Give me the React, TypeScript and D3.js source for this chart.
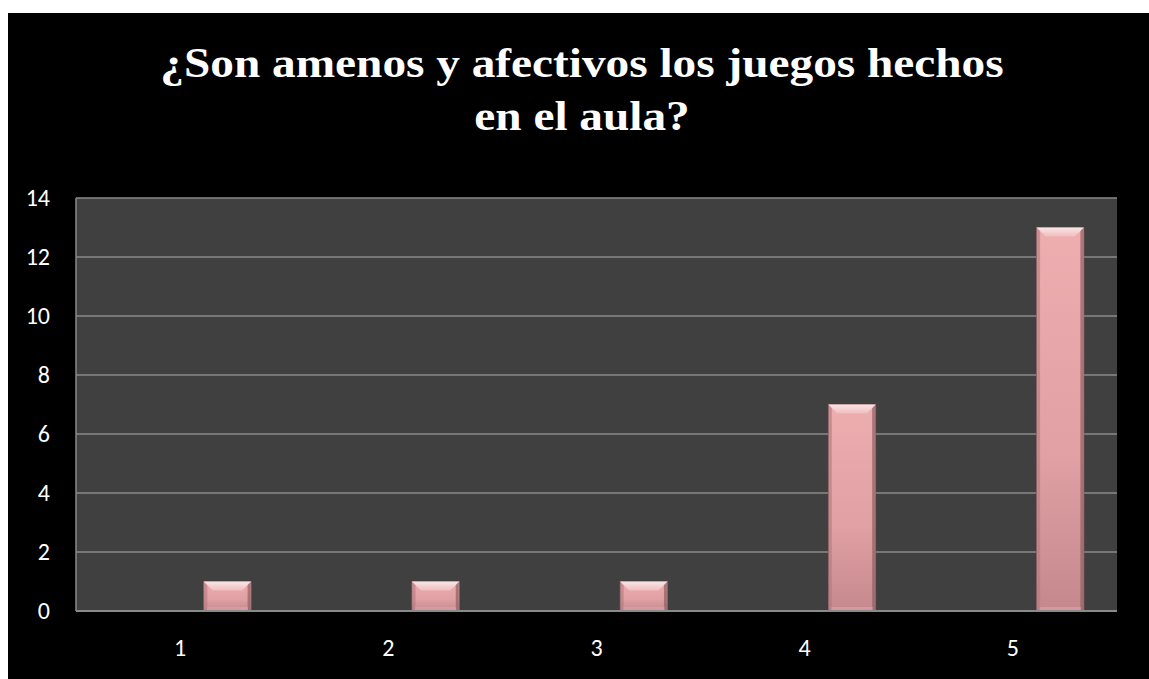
import React from "react";
import * as d3 from "d3";

const categories = ["1", "2", "3", "4", "5"];
const seriesNames = ["Serie1", "Serie2", "Serie3"];
const serie1 = [0, 0, 0, 0, 0];
const serie2 = [0, 0, 0, 0, 0];
const serie3 = [1, 1, 1, 7, 13];
const yTicks = [0, 2, 4, 6, 8, 10, 12, 14];
const titleLines = ["¿Son amenos y afectivos los juegos hechos", "en el aula?"];

export default function App() {
  const W = 1149, H = 679;
  const plot = { left: 76, right: 1117, top: 198, bottom: 611 };
  const x = d3.scaleBand<string>().domain(categories).range([plot.left, plot.right]).padding(0);
  const inner = d3.scaleBand<string>().domain(seriesNames).range([0, x.bandwidth()]).paddingInner(0).paddingOuter(0.7);
  const y = d3.scaleLinear().domain([0, 14]).range([plot.bottom, plot.top]);
  const allSeries = [serie1, serie2, serie3];

  const bars: { x: number; y: number; w: number; h: number; key: string }[] = [];
  allSeries.forEach((s, si) => {
    s.forEach((v, ci) => {
      if (v <= 0) return;
      const bx = (x(categories[ci]) ?? 0) + (inner(seriesNames[si]) ?? 0);
      const by = y(v);
      bars.push({ x: bx, y: by, w: inner.bandwidth(), h: y(0) - by, key: `${si}-${ci}` });
    });
  });

  const labelStyle = { fontFamily: "Carlito, Lato, 'Open Sans', sans-serif", fontSize: "24px" };
  const titleStyle = {
    fontFamily: "'Liberation Serif', 'Times New Roman', Tinos, 'DejaVu Serif', serif",
    fontWeight: 700,
    fontSize: "43px",
  };
  const bev = 9;

  return (
    <svg width={W} height={H} style={{ position: "absolute", left: 0, top: 0, display: "block" }}>
      <defs>
        <linearGradient id="barGrad" x1="0" y1="0" x2="0" y2="1">
          <stop offset="0%" stopColor="#eeaeb0" />
          <stop offset="60%" stopColor="#e0a0a4" />
          <stop offset="100%" stopColor="#c4888d" />
        </linearGradient>
        <linearGradient id="bevGrad" x1="0" y1="0" x2="0" y2="1">
          <stop offset="0%" stopColor="#fbe6e6" />
          <stop offset="100%" stopColor="#f0bcbe" />
        </linearGradient>
      </defs>
      <rect x={0} y={0} width={W} height={H} fill="#ffffff" />
      <rect x={8} y={13} width={W - 8} height={H - 13} fill="#000000" />
      {titleLines.map((t, i) => (
        <text
          key={i}
          transform={`translate(${582}, ${77 + i * 53}) scale(1.1, 1)`}
          textAnchor="middle"
          fill="#ffffff"
          style={titleStyle}
        >
          {t}
        </text>
      ))}
      <rect x={plot.left} y={plot.top} width={plot.right - plot.left} height={plot.bottom - plot.top} fill="#404040" />
      {yTicks.map((t) => (
        <line key={t} x1={plot.left} x2={plot.right} y1={y(t)} y2={y(t)} stroke="#8a8a8a" strokeWidth={1.5} />
      ))}
      <line x1={plot.left} x2={plot.left} y1={plot.top} y2={plot.bottom} stroke="#8a8a8a" strokeWidth={1.5} />
      {bars.map((b) => (
        <g key={b.key}>
          <rect x={b.x} y={b.y} width={b.w} height={b.h} fill="url(#barGrad)" stroke="#8e5d60" strokeWidth={0.8} />
          <rect x={b.x + 0.5} y={b.y} width={3} height={b.h} fill="#b07a7e" opacity={0.6} />
          <rect x={b.x + b.w - 3.5} y={b.y} width={3} height={b.h} fill="#8c5f63" opacity={0.7} />
          <polygon
            points={`${b.x},${b.y} ${b.x + b.w},${b.y} ${b.x + b.w - bev},${b.y + bev} ${b.x + bev},${b.y + bev}`}
            fill="url(#bevGrad)"
          />
          <rect x={b.x + 3} y={b.y + b.h - 4} width={b.w - 6} height={3} fill="#d8a6aa" opacity={0.6} />
        </g>
      ))}
      <line x1={plot.left} x2={plot.right} y1={plot.bottom} y2={plot.bottom} stroke="#8a8a8a" strokeWidth={2} />
      {yTicks.map((t) => (
        <text key={t} x={50} y={y(t)} dy="0.34em" textAnchor="end" fill="#ffffff" style={labelStyle}>
          {t}
        </text>
      ))}
      {categories.map((c) => (
        <text
          key={c}
          x={(x(c) ?? 0) + x.bandwidth() / 2}
          y={648}
          dy="0.34em"
          textAnchor="middle"
          fill="#ffffff"
          style={labelStyle}
        >
          {c}
        </text>
      ))}
    </svg>
  );
}
